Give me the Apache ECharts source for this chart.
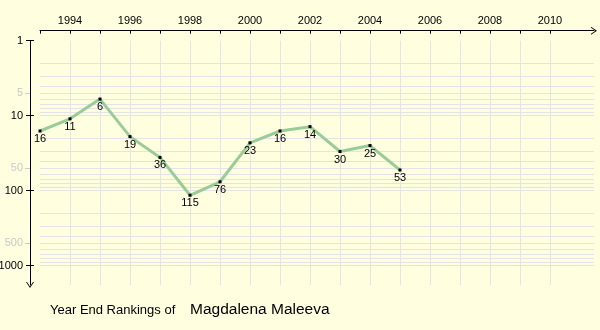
<!DOCTYPE html>
<html>
<head>
<meta charset="utf-8">
<script src="https://cdn.jsdelivr.net/npm/echarts@6/dist/echarts.min.js"></script>
<style>
html,body{margin:0;padding:0;background:#ffffe0;}
#c{width:600px;height:330px;}
</style>
</head>
<body>
<div id="c"></div>
<script>
// ---- data ----
var years = [1993, 1994, 1995, 1996, 1997, 1998, 1999, 2000, 2001, 2002, 2003, 2004, 2005];
var ranks = [16, 11, 6, 19, 36, 115, 76, 23, 16, 14, 30, 25, 53];
var xTickYears = [1993,1994,1995,1996,1997,1998,1999,2000,2001,2002,2003,2004,2005,2006,2007,2008,2009,2010];
var xLabelYears = [1994,1996,1998,2000,2002,2004,2006,2008,2010];
var xGridYears = [1994,1995,1996,1997,1998,1999,2000,2001,2002,2003,2004,2005,2006,2007,2008,2009,2010];
var yMajorLabels = [1, 10, 100, 1000];
var yMinorLabels = [5, 50, 500];
var yGridValues = [2,3,4,5,6,7,8,9,10,20,30,40,50,60,70,80,90,100,200,300,400,500,600,700,800,900,1000];
var playerName = 'Magdalena Maleeva';
var titlePrefix = 'Year End Rankings of';

var FONT = 'Liberation Sans';
var ARROW = 'path://M0,6 L4,0 L8,6 L7,6 L4,1.6 L1,6 Z';
var chart = echarts.init(document.getElementById('c'), null, {renderer: 'canvas'});

var yBase = {
  type: 'log', inverse: true, min: 1, max: 1808, position: 'left', offset: 10,
  splitLine: {show: false}, minorTick: {show: false}, minorSplitLine: {show: false}
};

var series = [{
  type: 'line',
  data: years.map(function (y, i) { return [y, ranks[i]]; }),
  xAxisIndex: 0, yAxisIndex: 0,
  z: 3,
  lineStyle: {color: '#99cc99', width: 3},
  itemStyle: {color: '#000'},
  symbol: 'rect', symbolSize: 3,
  showAllSymbol: true,
  label: {show: true, position: 'bottom', distance: 1, color: '#000', fontFamily: FONT, fontSize: 11},
  emphasis: {disabled: true},
  animation: false,
  markLine: {
    silent: true, symbol: 'none', z: 1, animation: false,
    label: {show: false},
    lineStyle: {color: '#e4e4e8', type: 'solid', width: 1},
    emphasis: {disabled: true},
    data: yGridValues.map(function (v) { return {yAxis: v}; })
      .concat(xGridYears.map(function (v) { return {xAxis: v}; }))
  }
}];

var option = {
  backgroundColor: '#ffffe0',
  animation: false,
  grid: {left: 40, right: 6, top: 40.7, bottom: 45, containLabel: false, outerBoundsMode: 'none'},
  xAxis: [{
    type: 'value', position: 'top', min: 1993, max: 2011.467, offset: 10,
    axisLine: {show: true, lineStyle: {color: '#000', width: 1},
      symbol: ['none', ARROW], symbolSize: [8, 6]},
    axisTick: {show: true, inside: true, length: 3, lineStyle: {color: '#000'}, customValues: xTickYears},
    axisLabel: {show: true, customValues: xLabelYears, color: '#000', fontFamily: FONT, fontSize: 11, margin: 4,
      formatter: function (v) { return String(v); }},
    splitLine: {show: false}
  }],
  yAxis: [
    Object.assign({}, yBase, {
      axisLine: {show: true, lineStyle: {color: '#000', width: 1},
        symbol: [ARROW, 'none'], symbolSize: [8, 6]},
      axisTick: {show: true, inside: false, length: 4, lineStyle: {color: '#000'}, customValues: yMajorLabels},
      axisLabel: {show: true, customValues: yMajorLabels, color: '#000', fontFamily: FONT, fontSize: 11, margin: 7,
        formatter: function (v) { return String(Math.round(v)); }}
    }),
    Object.assign({}, yBase, {
      axisLine: {show: false},
      axisTick: {show: true, inside: true, length: 4, lineStyle: {color: '#000'}, customValues: yMajorLabels},
      axisLabel: {show: false}
    }),
    Object.assign({}, yBase, {
      axisLine: {show: false},
      axisTick: {show: true, inside: false, length: 5, lineStyle: {color: '#cccccc'}, customValues: yMinorLabels},
      axisLabel: {show: true, customValues: yMinorLabels, color: '#c8c8c8', fontFamily: FONT, fontSize: 11, margin: 7,
        formatter: function (v) { return String(Math.round(v)); }}
    })
  ],
  graphic: [
    {type: 'text', left: 50, top: 304, style: {text: titlePrefix, fill: '#000', font: '13px "Liberation Sans"'}},
    {type: 'text', left: 190, top: 302, style: {text: playerName, fill: '#000', font: '15.5px "Liberation Sans"'}}
  ],
  series: series
};
chart.setOption(option);
</script>
</body>
</html>
